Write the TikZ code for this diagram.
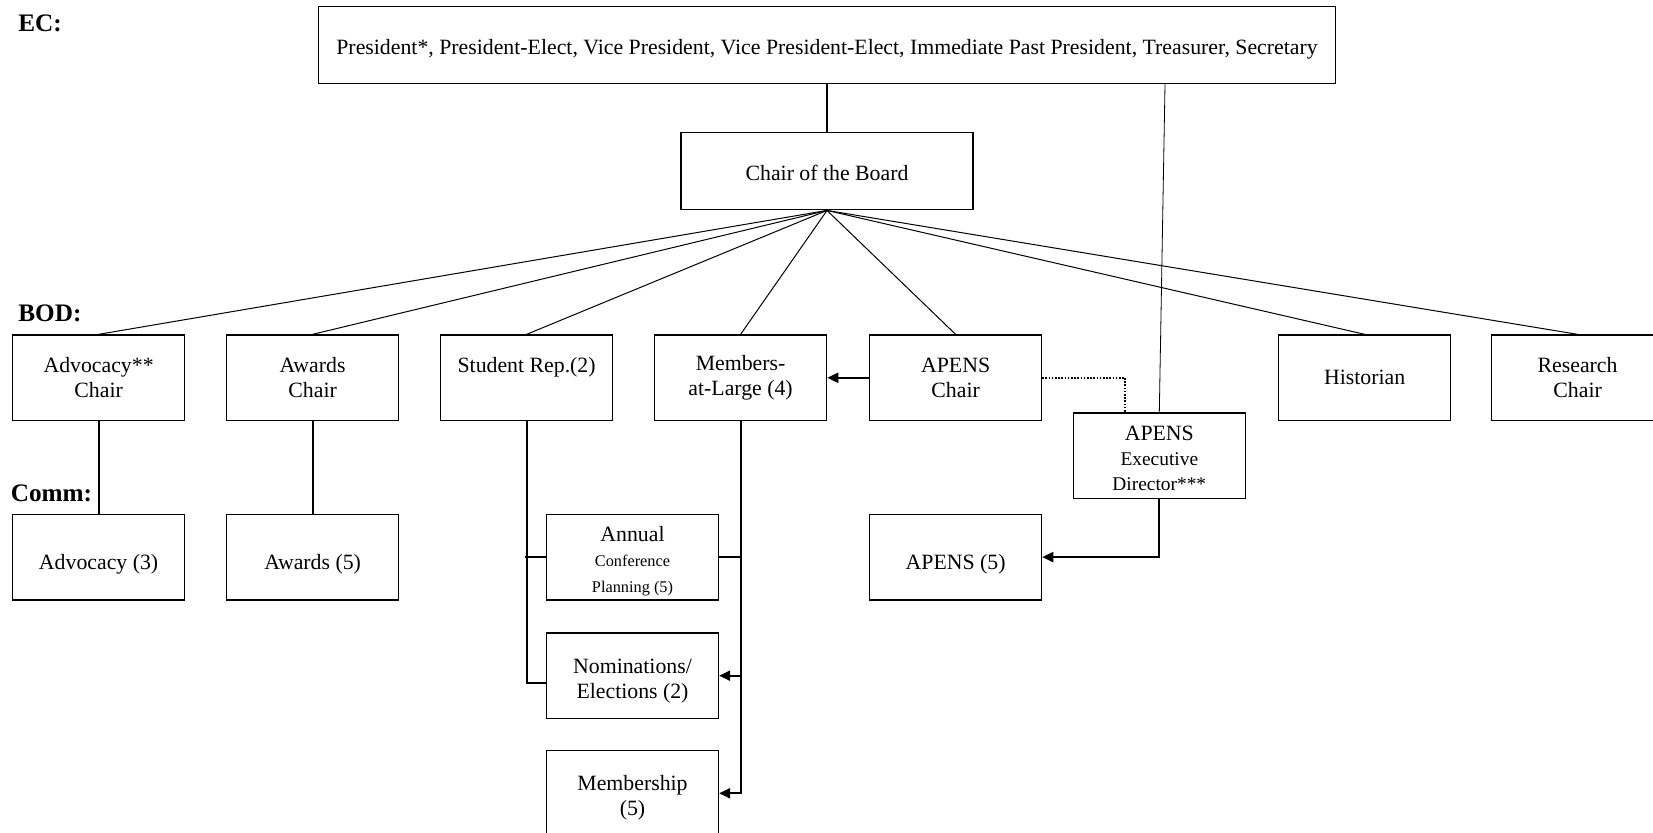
\documentclass[tikz,border=0pt]{standalone}
\usepackage{fontspec}
\setmainfont{Liberation Serif}
\usetikzlibrary{arrows.meta,calc}
\newcommand{\smtxt}{\fontsize{8.15}{12.65}\selectfont}
\newcommand{\mdtxt}{\fontsize{9.7}{12.65}\selectfont}
\newcommand{\dn}[1]{\rule{0pt}{#1}}
\begin{document}
\begin{tikzpicture}[x=0.5pt,y=-0.5pt,
  box/.style={draw, line width=0.65pt, minimum width=86pt, minimum height=42.8pt,
    inner sep=0pt, align=center, font=\fontsize{10.9}{12.65}\selectfont},
  low/.style={text height=15pt},
  lbl/.style={anchor=west, inner sep=0pt, font=\fontsize{12.6}{14}\selectfont\bfseries},
  thk/.style={line width=1pt},
  thn/.style={line width=0.5pt},
  thn2/.style={line width=0.4pt},
  arr/.style={-{Triangle[length=5.5pt,width=5pt]}},
  dots/.style={line width=0.9pt, dash pattern=on 0.8pt off 0.8pt}]
\useasboundingbox (0,0) rectangle (1653,833);

% Executive committee and chair
\node[box, minimum width=508.6pt, minimum height=38.5pt, text height=12pt] (ec) at (827,44.8)
  {President*, President-Elect, Vice President, Vice President-Elect, Immediate Past President, Treasurer, Secretary};
\node[box, minimum width=146pt, minimum height=38.5pt, text height=9.8pt] (chair) at (827,171.3) {Chair of the Board};

% Board row
\node[box] (adv) at (98.6,377.8) {Advocacy**\\Chair};
\node[box] (awc) at (312.6,377.8) {Awards\\Chair};
\node[box] (sr) at (526.6,377.8) {Student Rep.(2)\\\phantom{Chair}};
\node[box] (mal) at (740.6,377.8) {Members-\\at-Large (4)};
\node[box] (apc) at (955.6,377.8) {APENS\\Chair};
\node[box] (his) at (1364.7,377.8) {Historian};
\node[box] (res) at (1577.6,377.8) {Research\\Chair};
\node[box] (exec) at (1159.3,455.9) {\dn{9.5pt}APENS\\{\mdtxt Executive}\\{\mdtxt Director***}};

% Committees
\node[box, low] (adv3) at (98.6,557.1) {Advocacy (3)};
\node[box, low] (awd5) at (312.6,557.1) {Awards (5)};
\node[box] (acp) at (632.5,557.1) {\dn{11.6pt}Annual\\{\smtxt Conference}\\{\smtxt Planning (5)}};
\node[box, low] (ap5) at (955.6,557.1) {APENS (5)};
\node[box] (nom) at (632.5,675.7) {\dn{12.7pt}Nominations/\\Elections (2)};
\node[box] (memb) at (632.5,793.3) {\dn{12.3pt}Membership\\(5)};

% Labels
\node[lbl] (lec) at (18,23) {EC:};
\node[lbl] (lbod) at (18,313) {BOD:};
\node[lbl] (lcomm) at (10.5,493) {Comm:};

% Connectors
\draw[thk] (ec.south) -- (chair.north);
\foreach \n in {adv,awc,sr,mal,apc,his,res}
  \draw[thn] (chair.south) -- (\n.north);
\draw[thn2] ([xshift=169pt]ec.south) -- (exec.north);
\draw[dots] (apc.east) -| ([xshift=-17pt]exec.north);
\draw[thk] (adv.south) -- (adv3.north);
\draw[thk] (awc.south) -- (awd5.north);
\draw[thk] (sr.south) |- ([yshift=-3.8pt]nom.west);
\draw[thk] ([xshift=-1pt]acp.west -| sr.south) -- (acp.west);
\draw[thk] (acp.east) -- (acp.east -| mal.south);
\draw[thk,arr] (mal.south) |- (nom.east);
\draw[thk,arr] (mal.south) |- (memb.east);
\draw[thk,arr] (apc.west) -- (mal.east);
\draw[thk,arr] (exec.south) |- (ap5.east);
\end{tikzpicture}
\end{document}
